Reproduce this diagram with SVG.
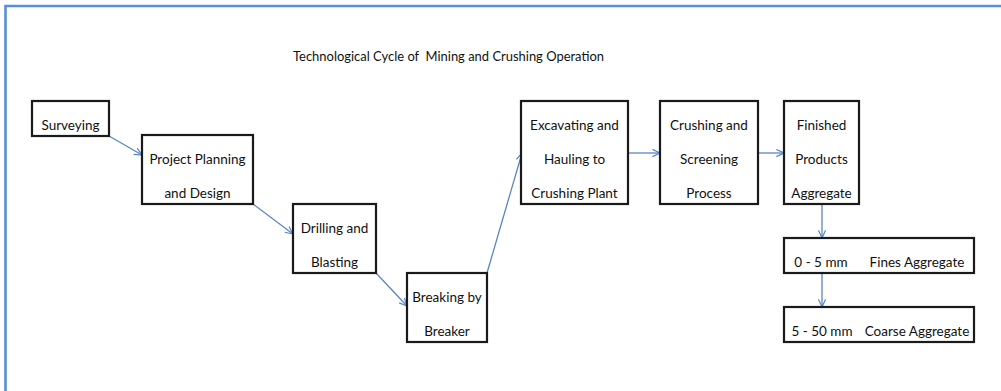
<svg xmlns="http://www.w3.org/2000/svg" width="1001" height="391" viewBox="0 0 1001 391">
<defs>
<style>
.box{fill:#fff;stroke:#1a1a1a;stroke-width:2.2}
.t{font-family:Lato,"Liberation Sans",sans-serif;font-size:13.5px;fill:#111;text-anchor:middle}
.title{font-family:Lato,"Liberation Sans",sans-serif;font-size:13px;fill:#111;white-space:pre}
.c{fill:none;stroke:#5a86c0;stroke-width:1.3;marker-end:url(#ah)}
</style>
<marker id="ah" viewBox="0 0 10 10" refX="9.5" refY="5" markerWidth="9" markerHeight="9" markerUnits="userSpaceOnUse" orient="auto">
<path d="M1,1 L9.5,5 L1,9" fill="none" stroke="#5a86c0" stroke-width="1.3"/>
</marker>
</defs>
<rect width="1001" height="391" fill="#fff"/>
<path d="M5.5,391 V6 H1001" fill="none" stroke="#5b8ed8" stroke-width="2.6"/>
<text class="title" xml:space="preserve" x="293" y="61" textLength="311" lengthAdjust="spacingAndGlyphs">Technological Cycle of  Mining and Crushing Operation</text>
<g id="connectors">
<line class="c" x1="109" y1="136" x2="142" y2="155"/>
<line class="c" x1="253" y1="204" x2="293" y2="234"/>
<line class="c" x1="376" y1="273" x2="407" y2="306"/>
<line class="c" x1="487" y1="273" x2="522" y2="153"/>
<line class="c" x1="628" y1="153" x2="660" y2="153"/>
<line class="c" x1="758" y1="153" x2="784" y2="153"/>
<line class="c" x1="822" y1="204" x2="822" y2="238"/>
<line class="c" x1="822" y1="273" x2="822" y2="307"/>
</g>
<g id="surveying"><rect class="box" x="32" y="101" width="77" height="35"/><text class="t" x="70.5" y="130">Surveying</text></g>
<g id="planning"><rect class="box" x="142" y="135" width="111" height="69"/><text class="t" x="197.5" y="164">Project Planning</text><text class="t" x="197.5" y="198">and Design</text></g>
<g id="drilling"><rect class="box" x="293" y="204" width="83" height="69"/><text class="t" x="334.5" y="233">Drilling and</text><text class="t" x="334.5" y="267">Blasting</text></g>
<g id="breaking"><rect class="box" x="407" y="273" width="80" height="69"/><text class="t" x="447" y="302">Breaking by</text><text class="t" x="447" y="336">Breaker</text></g>
<g id="excavating"><rect class="box" x="521" y="101" width="107" height="103"/><text class="t" x="574.5" y="130">Excavating and</text><text class="t" x="574.5" y="164">Hauling to</text><text class="t" x="574.5" y="198">Crushing Plant</text></g>
<g id="crushing"><rect class="box" x="660" y="101" width="98" height="103"/><text class="t" x="709" y="130">Crushing and</text><text class="t" x="709" y="164">Screening</text><text class="t" x="709" y="198">Process</text></g>
<g id="finished"><rect class="box" x="784" y="101" width="75" height="103"/><text class="t" x="821.5" y="130">Finished</text><text class="t" x="821.5" y="164">Products</text><text class="t" x="821.5" y="198">Aggregate</text></g>
<g id="fines"><rect class="box" x="784" y="238" width="190" height="35"/><text class="t" x="821" y="267">0 - 5 mm</text><text class="t" x="917" y="267">Fines Aggregate</text></g>
<g id="coarse"><rect class="box" x="784" y="307" width="190" height="35"/><text class="t" x="822" y="336">5 - 50 mm</text><text class="t" x="917" y="336">Coarse Aggregate</text></g>
</svg>
